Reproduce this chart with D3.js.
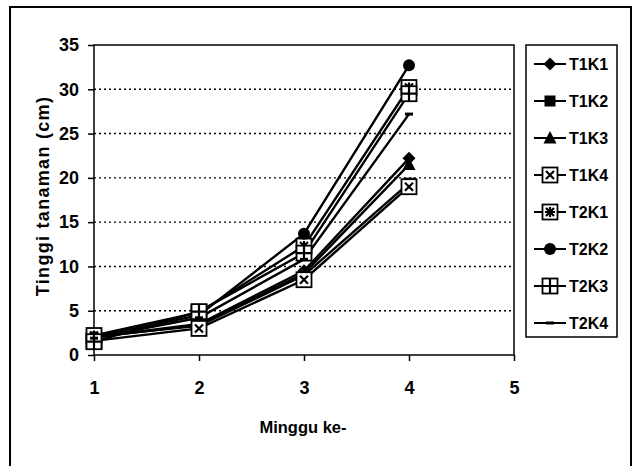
<!DOCTYPE html>
<html>
	<head>
		<meta http-equiv="Content-Type" content="text/html;charset=utf-8"/>
		<title>Tinggi tanaman</title>
		<script src="https://cdn.jsdelivr.net/npm/d3@7"></script>
		<style type="text/css">
			body { margin: 0; background: #fff; }
			text { font-family: "Liberation Sans", Arial, sans-serif; fill: #000; }
			.grid { stroke: #000; stroke-width: 1.4; stroke-dasharray: 2,3; }
			.axis path, .axis line { stroke: #000; stroke-width: 1.5; }
			.axis text { font-size: 18px; font-weight: bold; }
			.series { fill: none; stroke: #000; stroke-width: 2.4; }
		</style>
	</head>
	<body>
		<script type="text/javascript">

			//Weeks and y ticks
			var weeks = [1, 2, 3, 4];
			var xTicks = [1, 2, 3, 4, 5];
			var yTicks = [0, 5, 10, 15, 20, 25, 30, 35];

			//Plant height per treatment (cm)
			var T1K1 = [2.0, 3.5, 9.5, 22.2];
			var T1K2 = [2.1, 3.3, 9.0, 19.4];
			var T1K3 = [2.0, 3.4, 9.2, 21.5];
			var T1K4 = [1.6, 3.0, 8.5, 19.0];
			var T2K1 = [2.2, 4.8, 12.3, 30.2];
			var T2K2 = [2.0, 4.5, 13.7, 32.7];
			var T2K3 = [1.5, 4.9, 11.5, 29.5];
			var T2K4 = [1.9, 4.2, 10.8, 27.2];

			var names = ["T1K1", "T1K2", "T1K3", "T1K4", "T2K1", "T2K2", "T2K3", "T2K4"];
			var values = [T1K1, T1K2, T1K3, T1K4, T2K1, T2K2, T2K3, T2K4];
			var markers = ["diamond", "square", "triangle", "boxX", "boxStar", "circle", "boxPlus", "dash"];

			var w = 638, h = 466;
			var plotL = 94, plotR = 514, plotT = 45, plotB = 355;

			var svg = d3.select("body").append("svg")
						.attr("width", w)
						.attr("height", h);

			//outer frame (bottom edge runs off the picture)
			svg.append("rect")
				.attr("x", 10).attr("y", 7)
				.attr("width", 621).attr("height", 470)
				.attr("fill", "none").attr("stroke", "#000").attr("stroke-width", 2);

			var x = d3.scaleLinear().domain([1, 5]).range([plotL, plotR]);
			var y = d3.scaleLinear().domain([0, 35]).range([plotB, plotT]);

			//dotted gridlines
			svg.selectAll("line.grid")
				.data(yTicks.filter(function(d) { return d > 0 && d < 35; }))
				.enter().append("line")
				.attr("class", "grid")
				.attr("x1", plotL).attr("x2", plotR)
				.attr("y1", function(d) { return y(d); })
				.attr("y2", function(d) { return y(d); });

			//plot frame
			svg.append("rect")
				.attr("x", plotL).attr("y", plotT)
				.attr("width", plotR - plotL).attr("height", plotB - plotT)
				.attr("fill", "none").attr("stroke", "#000").attr("stroke-width", 1.5);

			svg.append("g").attr("class", "axis")
				.attr("transform", "translate(" + plotL + ",0)")
				.call(d3.axisLeft(y).tickValues(yTicks).tickSize(6).tickPadding(9))
				.select(".domain").remove();

			svg.append("g").attr("class", "axis")
				.attr("transform", "translate(0," + plotB + ")")
				.call(d3.axisBottom(x).tickValues(xTicks).tickSize(6).tickPadding(20).tickFormat(d3.format("d")))
				.select(".domain").remove();

			//axis titles
			svg.append("text")
				.attr("x", 303).attr("y", 433)
				.attr("text-anchor", "middle")
				.style("font-size", "16.5px").style("font-weight", "bold")
				.text("Minggu ke-");

			svg.append("text")
				.attr("transform", "translate(49,196) rotate(-90)")
				.attr("text-anchor", "middle")
				.style("font-size", "18px").style("font-weight", "bold")
				.style("letter-spacing", "1.3px")
				.text("Tinggi tanaman (cm)");

			//draw one marker of a given kind centred at (cx, cy)
			function drawMarker(g, kind, cx, cy) {
				var m = g.append("g").attr("transform", "translate(" + cx + "," + cy + ")");
				if (kind === "diamond") {
					m.append("path").attr("d", "M0,-6.5L6.5,0L0,6.5L-6.5,0Z").attr("fill", "#000");
				} else if (kind === "square") {
					m.append("rect").attr("x", -5.5).attr("y", -5.5).attr("width", 11).attr("height", 11).attr("fill", "#000");
				} else if (kind === "triangle") {
					m.append("path").attr("d", "M0,-7L6.5,5.5L-6.5,5.5Z").attr("fill", "#000");
				} else if (kind === "circle") {
					m.append("circle").attr("r", 6).attr("fill", "#000");
				} else if (kind === "dash") {
					m.append("line").attr("x1", -4).attr("x2", 4).attr("stroke", "#000").attr("stroke-width", 3);
				} else {
					m.append("rect").attr("x", -7.5).attr("y", -7.5).attr("width", 15).attr("height", 15)
						.attr("fill", "#fff").attr("stroke", "#000").attr("stroke-width", 1.8);
					var inner = kind === "boxX" ? "M-4,-4L4,4M4,-4L-4,4"
						: kind === "boxPlus" ? "M0,-7.5L0,7.5M-7.5,0L7.5,0"
						: "M-4,-4L4,4M4,-4L-4,4M0,-5L0,5M-5,0L5,0";
					m.append("path").attr("d", inner).attr("stroke", "#000").attr("stroke-width", 2.2);
				}
			}

			var line = d3.line()
				.x(function(d, i) { return x(weeks[i]); })
				.y(function(d) { return y(d); });

			//series lines
			svg.selectAll("path.series")
				.data(values)
				.enter().append("path")
				.attr("class", "series")
				.attr("d", line);

			//series markers
			values.forEach(function(vals, s) {
				vals.forEach(function(v, i) {
					drawMarker(svg, markers[s], x(weeks[i]), y(v));
				});
			});

			//legend
			var lg = svg.append("g");
			lg.append("rect")
				.attr("x", 526).attr("y", 45)
				.attr("width", 91).attr("height", 292)
				.attr("fill", "#fff").attr("stroke", "#000").attr("stroke-width", 1.5);

			names.forEach(function(name, i) {
				var ly = 64 + i * 37;
				lg.append("line")
					.attr("x1", 534).attr("x2", 566)
					.attr("y1", ly).attr("y2", ly)
					.attr("stroke", "#000").attr("stroke-width", 2);
				drawMarker(lg, markers[i], 550, ly);
				lg.append("text")
					.attr("x", 569).attr("y", ly + 6)
					.style("font-size", "16px").style("font-weight", "bold")
					.text(name);
			});

		</script>
	</body>
</html>
